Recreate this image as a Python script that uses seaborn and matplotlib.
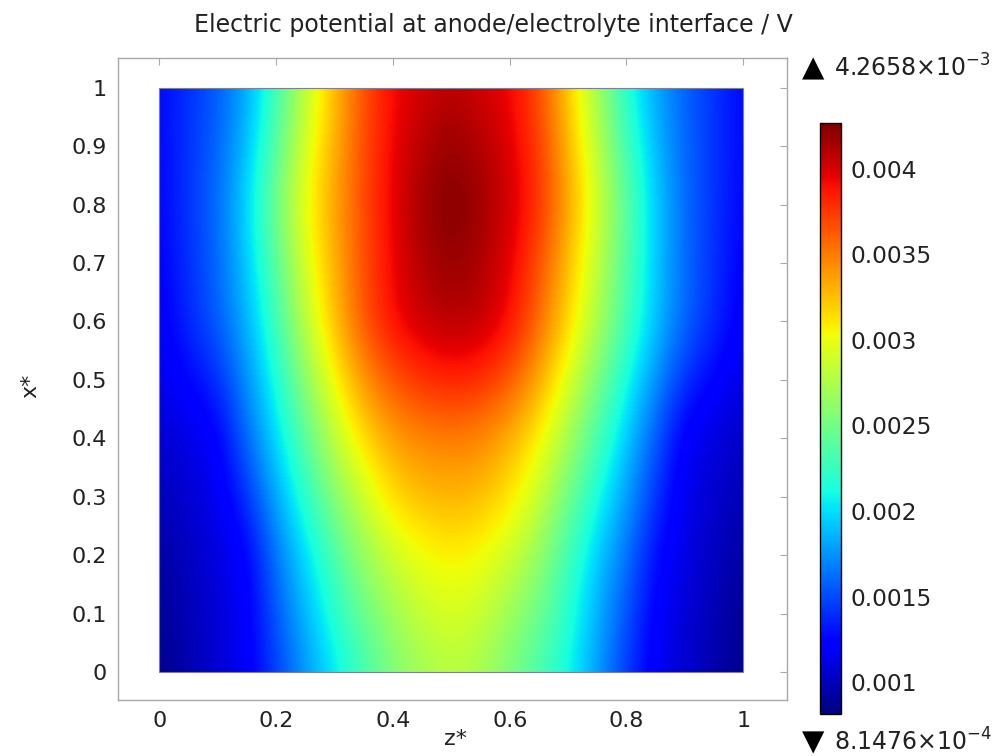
import numpy as np
import matplotlib
matplotlib.use("Agg")
import matplotlib.pyplot as plt
import seaborn as sns
from matplotlib.patches import Rectangle

# ---------------- data ----------------
# normalised coordinates of the grid where the potential was read
z_star = [0.00, 0.05, 0.10, 0.15, 0.20, 0.25, 0.30, 0.35, 0.40, 0.45, 0.50,
          0.55, 0.60, 0.65, 0.70, 0.75, 0.80, 0.85, 0.90, 0.95, 1.00]
x_star = [0.0, 0.1, 0.2, 0.3, 0.4, 0.5, 0.6, 0.7, 0.8, 0.9, 1.0]

# electric potential in mV, one list per x* row (bottom -> top)
phi_x00 = [0.850, 0.956, 1.067, 1.174, 1.450, 1.754, 2.030, 2.285, 2.541, 2.696, 2.782,
           2.713, 2.541, 2.320, 2.102, 1.781, 1.436, 1.160, 1.057, 0.953, 0.850]
phi_x01 = [0.884, 0.984, 1.084, 1.184, 1.540, 1.868, 2.178, 2.471, 2.679, 2.851, 2.937,
           2.868, 2.679, 2.482, 2.195, 1.850, 1.540, 1.212, 1.084, 0.984, 0.884]
phi_x02 = [0.919, 1.012, 1.101, 1.195, 1.643, 1.988, 2.333, 2.644, 2.886, 3.006, 3.075,
           3.024, 2.886, 2.644, 2.299, 1.940, 1.643, 1.271, 1.115, 1.019, 0.919]
phi_x03 = [0.988, 1.067, 1.150, 1.402, 1.816, 2.195, 2.575, 2.886, 3.144, 3.265, 3.300,
           3.265, 3.127, 2.868, 2.506, 2.126, 1.799, 1.419, 1.146, 1.060, 0.970]
phi_x04 = [1.057, 1.126, 1.195, 1.602, 1.981, 2.392, 2.813, 3.144, 3.369, 3.455, 3.490,
           3.455, 3.300, 3.075, 2.713, 2.327, 1.943, 1.553, 1.177, 1.101, 1.022]
phi_x05 = [1.126, 1.264, 1.384, 1.730, 2.126, 2.610, 3.041, 3.403, 3.645, 3.783, 3.835,
           3.800, 3.645, 3.351, 2.955, 2.541, 2.126, 1.747, 1.402, 1.246, 1.108]
phi_x06 = [1.195, 1.381, 1.567, 1.850, 2.271, 2.810, 3.258, 3.652, 3.921, 4.042, 4.111,
           4.076, 3.921, 3.576, 3.179, 2.761, 2.320, 1.919, 1.602, 1.398, 1.195]
phi_x07 = [1.222, 1.402, 1.588, 1.919, 2.385, 2.920, 3.300, 3.662, 3.938, 4.111, 4.197,
           4.128, 3.973, 3.679, 3.265, 2.834, 2.368, 1.930, 1.602, 1.409, 1.219]
phi_x08 = [1.246, 1.426, 1.609, 1.975, 2.485, 3.024, 3.355, 3.686, 3.955, 4.162, 4.266,
           4.180, 4.024, 3.800, 3.369, 2.920, 2.413, 1.943, 1.609, 1.426, 1.246]
phi_x09 = [1.257, 1.419, 1.581, 1.885, 2.368, 2.920, 3.300, 3.679, 3.938, 4.093, 4.197,
           4.111, 3.990, 3.748, 3.300, 2.817, 2.299, 1.885, 1.595, 1.426, 1.257]
phi_x10 = [1.264, 1.409, 1.557, 1.809, 2.264, 2.810, 3.258, 3.652, 3.921, 4.007, 4.093,
           4.014, 3.935, 3.693, 3.217, 2.703, 2.164, 1.819, 1.581, 1.422, 1.264]

v_max = 4.2658e-3
v_min = 8.1476e-4
max_label = "4.2658\u00D710$^{-3}$"
min_label = "8.1476\u00D710$^{-4}$"

cbar_ticks = [0.001, 0.0015, 0.002, 0.0025, 0.003, 0.0035, 0.004]
cbar_ticklabels = ["0.001", "0.0015", "0.002", "0.0025", "0.003", "0.0035", "0.004"]
x_ticks = [0.0, 0.1, 0.2, 0.3, 0.4, 0.5, 0.6, 0.7, 0.8, 0.9, 1.0]
x_ticklabels = ["0", "0.1", "0.2", "0.3", "0.4", "0.5", "0.6", "0.7", "0.8", "0.9", "1"]
z_ticks = [0.0, 0.2, 0.4, 0.6, 0.8, 1.0]
z_ticklabels = ["0", "0.2", "0.4", "0.6", "0.8", "1"]

title = "Electric potential at anode/electrolyte interface / V"
xlabel = "z*"
ylabel = "x*"

# ---------------- style ----------------
sns.set_theme(style="white")
plt.rcParams['font.family'] = ['DejaVu Sans']
text_color = "#222222"
frame_color = "#a8a8a8"
fs = 16

fig = plt.figure(figsize=(9.92, 7.56), dpi=100)
ax = fig.add_axes([118 / 992, 56 / 756, 669 / 992, 642 / 756])

V = np.array([phi_x00, phi_x01, phi_x02, phi_x03, phi_x04, phi_x05,
              phi_x06, phi_x07, phi_x08, phi_x09, phi_x10]) * 1e-3
dz = z_star[1] - z_star[0]
dx = x_star[1] - x_star[0]
cmap = matplotlib.colormaps["jet"]
im = ax.imshow(V, origin="lower", cmap=cmap, vmin=v_min, vmax=v_max,
               extent=[z_star[0] - dz / 2, z_star[-1] + dz / 2,
                       x_star[0] - dx / 2, x_star[-1] + dx / 2],
               interpolation="bicubic", aspect="auto")
clip = Rectangle((z_star[0], x_star[0]), z_star[-1] - z_star[0], x_star[-1] - x_star[0],
                 transform=ax.transData)
im.set_clip_path(clip)
ax.add_patch(Rectangle((z_star[0], x_star[0]), z_star[-1] - z_star[0], x_star[-1] - x_star[0],
                       fill=False, edgecolor="#7f7f8f", lw=0.8, zorder=3))

ax.set_xlim(-0.071, 1.075)
ax.set_ylim(-0.048, 1.051)
ax.set_xticks(z_ticks)
ax.set_xticklabels(z_ticklabels)
ax.set_yticks(x_ticks)
ax.set_yticklabels(x_ticklabels)
ax.tick_params(direction="in", top=True, right=True, length=5, width=0.8,
               color=frame_color, labelsize=fs, labelcolor=text_color, pad=8)
for s in ax.spines.values():
    s.set_color(frame_color)
    s.set_linewidth(1.0)

ax.set_xlabel(xlabel, fontsize=fs, color=text_color)
ax.xaxis.set_label_coords((455 - 118) / 669, -0.045)
ax.set_ylabel(ylabel, fontsize=fs, color=text_color)
ax.yaxis.set_label_coords(-0.116, 0.49)

fig.text(493 / 992, 1 - 25 / 756, title, ha="center", va="center",
         fontsize=17, color=text_color)

# colour bar
cax = fig.add_axes([820 / 992, 42 / 756, 21 / 992, 591 / 756])
cb = fig.colorbar(im, cax=cax, ticks=cbar_ticks)
cb.ax.set_yticklabels(cbar_ticklabels)
cb.ax.tick_params(labelsize=16.8, labelcolor=text_color, length=4, width=0.8,
                  color="#333333", direction="in", pad=7)
cb.outline.set_edgecolor("black")
cb.outline.set_linewidth(1.0)

# max / min annotations
fig.text(813 / 992, 1 - 68 / 756, "\u25B2", ha="center", va="center",
         fontsize=21, color="black")
fig.text(834 / 992, 1 - 68 / 756, max_label, ha="left", va="center",
         fontsize=17, color=text_color)
fig.text(813 / 992, 1 - 742 / 756, "\u25BC", ha="center", va="center",
         fontsize=21, color="black")
fig.text(834 / 992, 1 - 742 / 756, min_label, ha="left", va="center",
         fontsize=17, color=text_color)

fig.savefig("out.png", dpi=100)
